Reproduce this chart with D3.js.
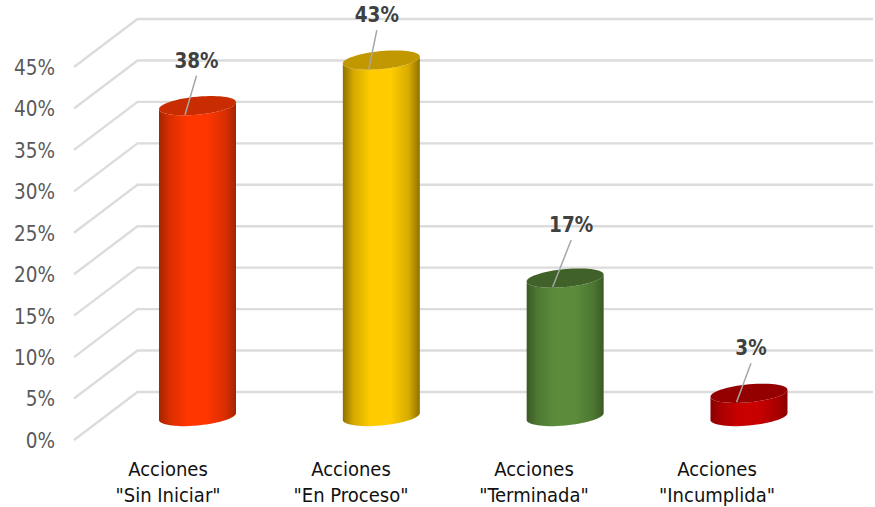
<!DOCTYPE html>
<html><head><meta charset="utf-8">
<script src="https://cdn.jsdelivr.net/npm/d3@7"></script>
<style>html,body{margin:0;padding:0;background:#fff}svg{display:block}</style>
</head><body><svg id="c" width="875" height="507"></svg>
<script>
const categories = ['Acciones\n"Sin Iniciar"','Acciones\n"En Proceso"','Acciones\n"Terminada"','Acciones\n"Incumplida"'];
const values = [37.5, 43, 16.7, 2.8];
const tickValues = [0,5,10,15,20,25,30,35,40,45];
const bodyColors = [["#a32500","#d92e00","#ff3600"],["#8f7000","#d6aa00","#ffcc00"],["#3a5a24","#4d7832","#5b8c3b"],["#8a0000","#aa0000","#c80000"]];
const capColors = ["#c92c00","#c29800","#406229","#940000"];

const svg = d3.select("#c");
const font = "'DejaVu Sans Condensed','DejaVu Sans',sans-serif";
const y = d3.scaleLinear().domain([0,45]).range([440,67]);
const xLabel = d3.scalePoint().domain(categories).range([168,717]);
const xBar = d3.scalePoint().domain(categories).range([197.5,749]);
const depthX = 63.5, depthY = 48, midDepth = 23.5;
const W = 38.5, H = 9, K = 0.09;

// grid
const grid = svg.append("g").attr("stroke","#dcdcdc").attr("stroke-width",2.4).attr("fill","none");
const gridLine = d3.line();
tickValues.forEach(t=>{
  grid.append("path").attr("d",gridLine([[74,y(t)],[74+depthX,y(t)-depthY],[873,y(t)-depthY]]));
});

// value axis
const ax = svg.append("g").attr("transform","translate(55,0)")
  .call(d3.axisLeft(y).tickValues(tickValues).tickSize(0).tickPadding(0).tickFormat(d=>d+"%"));
ax.select(".domain").remove();
ax.selectAll("text").attr("font-family",font).attr("font-size",20.5).attr("fill","#595959").attr("dy","0.36em");

// cylinders
const ring = (cx,cy,t)=>[cx+W*Math.cos(t), cy-K*W*Math.cos(t)+H*Math.sin(t)];
const line = d3.line();
const defs = svg.append("defs");
categories.forEach((c,i)=>{
  const id="g"+i;
  const g=defs.append("linearGradient").attr("id",id);
  [[0,bodyColors[i][0]],[.14,bodyColors[i][1]],[.36,bodyColors[i][2]],[.62,bodyColors[i][2]],[.86,bodyColors[i][1]],[1,bodyColors[i][0]]]
    .forEach(s=>g.append("stop").attr("offset",s[0]).attr("stop-color",s[1]));
  const cx=xBar(c), base=y(0)-midDepth, top=y(values[i])-midDepth;
  const ts=d3.range(0,181,6).map(a=>a*Math.PI/180);
  const lower=ts.map(t=>ring(cx,base,t));
  const upper=ts.map(t=>ring(cx,top,t)).reverse();
  svg.append("path").attr("d",line(lower.concat(upper))+"Z").attr("fill","url(#"+id+")");
  const all=d3.range(0,360,6).map(a=>ring(cx,top,a*Math.PI/180));
  svg.append("path").attr("d",line(all)+"Z").attr("fill",capColors[i]);
});

// data labels and leaders
const labelShift=[[-1,38],[-4.5,38],[6,46],[2,38]];
categories.forEach((c,i)=>{
  const cx=xBar(c), top=y(values[i])-midDepth;
  const lx=cx+labelShift[i][0], ly=top-labelShift[i][1];
  svg.append("path").attr("d",line([[lx,ly+8],[cx-12.5,top+9]])).attr("stroke","#a6a6a6").attr("stroke-width",1.5).attr("fill","none");
  svg.append("text").attr("x",lx).attr("y",ly).attr("text-anchor","middle")
    .attr("font-family",font).attr("font-weight","bold").attr("font-size",20.5).attr("fill","#404040")
    .text(Math.round(values[i])+"%");
});

// category labels
categories.forEach(c=>{
  const t=svg.append("text").attr("text-anchor","middle").attr("font-family",font).attr("font-size",20).attr("fill","#111");
  c.split("\n").forEach((s,j)=>t.append("tspan").attr("x",xLabel(c)).attr("y",476+j*25.5).text(s));
});
</script></body></html>
